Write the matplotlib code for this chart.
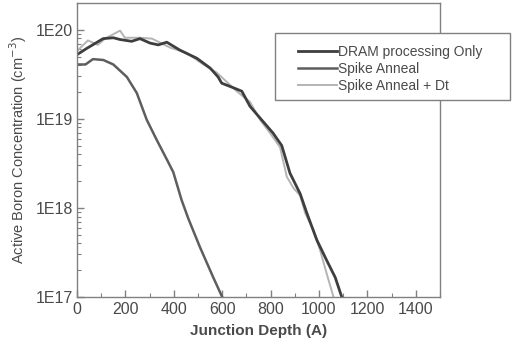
import matplotlib.pyplot as plt
from matplotlib.patches import Rectangle
from matplotlib.ticker import FixedLocator, MultipleLocator, LogLocator, NullFormatter
import numpy as np

plt.rcParams['font.family'] = ['Liberation Sans', 'DejaVu Sans']

# junction depth (A) and log10 of active boron concentration (cm^-3)
dram_x = [0, 40, 108, 150, 178, 226, 260, 302, 336, 371, 426, 495, 550, 583,
          598, 645, 681, 715, 756, 810, 846, 880, 922, 950, 991, 1032, 1067, 1094]
dram_log = [19.72, 19.79, 19.90, 19.91, 19.89, 19.87, 19.90, 19.85, 19.83, 19.86,
            19.77, 19.68, 19.57, 19.47, 19.40, 19.35, 19.31, 19.14, 19.01, 18.84,
            18.70, 18.39, 18.16, 17.94, 17.64, 17.41, 17.22, 17.00]

spike_x = [0, 35, 66, 109, 150, 206, 247, 288, 330, 372, 398, 432, 460, 508, 563, 600]
spike_log = [19.61, 19.61, 19.67, 19.66, 19.61, 19.47, 19.29, 18.99, 18.76, 18.54,
             18.40, 18.09, 17.88, 17.56, 17.22, 17.00]

dt_x = [0, 45, 86, 116, 178, 198, 260, 310, 384, 453, 522, 577, 660, 687, 715,
        756, 798, 839, 867, 895, 922, 943, 977, 1005, 1032, 1060]
dt_log = [19.76, 19.88, 19.83, 19.90, 19.99, 19.91, 19.91, 19.90, 19.80, 19.74,
          19.61, 19.52, 19.31, 19.25, 19.19, 18.99, 18.84, 18.68, 18.35, 18.22,
          18.14, 17.94, 17.75, 17.52, 17.26, 17.00]

labels = ['DRAM processing Only', 'Spike Anneal', 'Spike Anneal + Dt']
colors = ['#3e3e3e', '#5e5e5e', '#b4b4b4']
widths = [2.0, 1.8, 1.4]

txt = '#4a4a4a'
edge = '#808080'

fig = plt.figure(figsize=(5.15, 3.48), dpi=100)
ax = fig.add_axes([77 / 515, 1 - 297 / 348, (440 - 77) / 515, (297 - 3) / 348])

series = [(dram_x, dram_log), (spike_x, spike_log), (dt_x, dt_log)]
order = [1, 2, 0]
lines = {}
for i in order:
    x, ly = series[i]
    lines[i], = ax.plot(x, 10 ** np.array(ly), color=colors[i], lw=widths[i],
                        label=labels[i])

ax.set_yscale('log')
ax.set_xlim(0, 1500)
ax.set_ylim(1e17, 10 ** 20.3)
ax.set_xticks([0, 200, 400, 600, 800, 1000, 1200, 1400])
ax.xaxis.set_minor_locator(MultipleLocator(100))
ax.yaxis.set_major_locator(FixedLocator([1e17, 1e18, 1e19, 1e20]))
ax.set_yticklabels(['1E17', '1E18', '1E19', '1E20'])
ax.yaxis.set_minor_locator(LogLocator(base=10, subs=np.arange(2, 10)))
ax.yaxis.set_minor_formatter(NullFormatter())

ax.tick_params(which='both', direction='in', colors=edge, labelcolor=txt,
               labelsize=11.5)
ax.tick_params(axis='y', pad=3)
ax.tick_params(which='major', length=5, width=1)
ax.tick_params(which='minor', length=3, width=0.8)
for s in ax.spines.values():
    s.set_color(edge)
    s.set_linewidth(1.0)

ax.set_xlabel('Junction Depth (A)', fontsize=11, fontweight='bold', color=txt,
              labelpad=5)
ax.set_ylabel('Active Boron Concentration (cm$^{-3}$)', fontsize=10.5, color=txt,
              labelpad=5)

# legend box spills past the right spine, as in the original
fig.patches.append(Rectangle((275 / 515, 1 - 100 / 348), 235 / 515, 67 / 348,
                             transform=fig.transFigure, facecolor='white',
                             edgecolor=edge, lw=1.0, zorder=2))
leg = fig.legend([lines[0], lines[1], lines[2]], labels,
                 loc='upper left', bbox_to_anchor=(298 / 515, 1 - 45 / 348),
                 fontsize=10, frameon=False, handlelength=2.8,
                 handletextpad=0.1, labelspacing=0.2, borderpad=0,
                 borderaxespad=0)
leg.set_zorder(3)
for t in leg.get_texts():
    t.set_color(txt)

fig.savefig('out.png', dpi=100)
